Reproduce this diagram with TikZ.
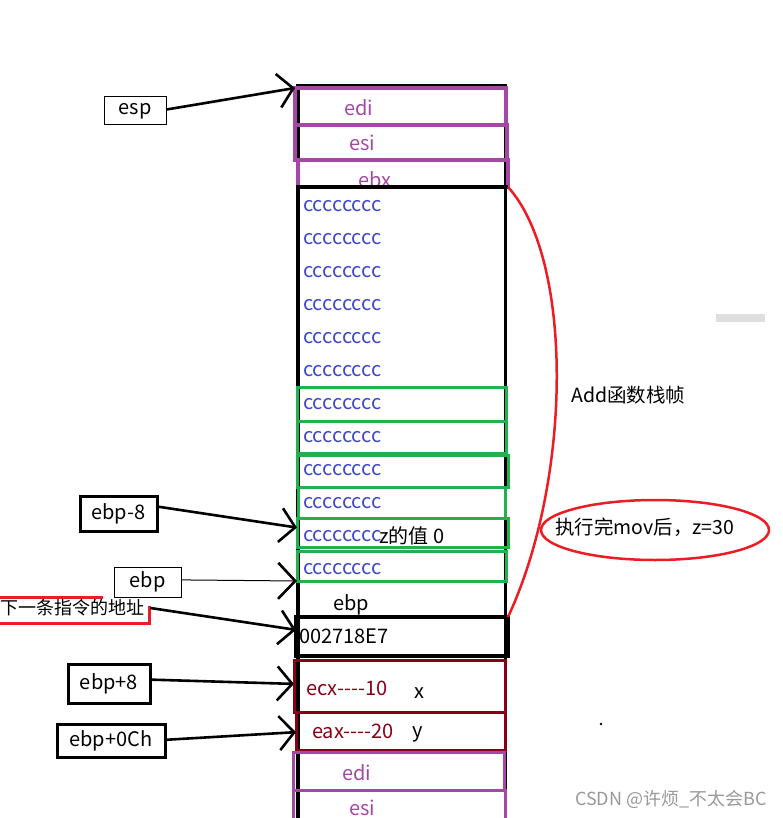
\documentclass[tikz,border=0pt]{standalone}
\usepackage{fontspec}
\setmainfont{Noto Sans CJK SC}
\usetikzlibrary{arrows.meta,shapes.geometric,calc}
\definecolor{ppl}{HTML}{A349A4}
\definecolor{cblu}{HTML}{3F48CC}
\definecolor{grn}{HTML}{22B14C}
\definecolor{dred}{HTML}{880015}
\definecolor{rd}{HTML}{ED1C24}
\begin{document}
\begin{tikzpicture}[x=1pt,y=-1pt,
  box/.style={rectangle,inner sep=0pt,outer sep=0pt,anchor=north west},
  txt/.style={inner sep=0pt,font=\fontsize{20}{22}\selectfont},
  cjk/.style={inner sep=0pt,font=\fontsize{19.5}{22}\selectfont},
  ctxt/.style={txt,text=cblu,anchor=west},
  arr/.style={line width=2.6pt,-{Straight Barb[length=15pt,width=34pt,line width=2.6pt]}},
  thinarr/.style={line width=1pt,-{Straight Barb[length=17pt,width=36pt,line width=2.6pt]}}]
\useasboundingbox (0,0) rectangle (782,818);
\fill[white] (0,0) rectangle (782,818);

% black column
\draw[line width=3.5pt] (296,86) -- (507,86);
\draw[line width=3.5pt] (298,86) -- (298,830);
\draw[line width=3.5pt] (505.5,86) -- (505.5,830);

% top register boxes
\node[box,draw=ppl,line width=3.5pt,minimum width=211,minimum height=37] (edi) at (295,88) {};
\node[box,draw=ppl,line width=3.5pt,minimum width=212,minimum height=35] (esi) at (295,125) {};
\node[box,draw=ppl,line width=3.5pt,minimum width=210,minimum height=27] (ebx) at (298,160) {};
\node[txt,text=ppl] (tedi) at (359,108) {edi};
\node[txt,text=ppl] (tesi) at (362,143) {esi};
\node[txt,text=ppl] (tebx) at (375,180) {ebx};
\draw[line width=3.5pt] (296,187) -- (508,187);

% cccc rows
\node[ctxt] (c1) at (303,206) {cccccccc};
\node[ctxt] (c2) at (303,239) {cccccccc};
\node[ctxt] (c3) at (303,272) {cccccccc};
\node[ctxt] (c4) at (303,305) {cccccccc};
\node[ctxt] (c5) at (303,338) {cccccccc};
\node[ctxt] (c6) at (303,371) {cccccccc};

% green boxes
\node[box,draw=grn,line width=3pt,minimum width=209,minimum height=34] (g1) at (297,387) {};
\node[box,draw=grn,line width=3pt,minimum width=209,minimum height=32] (g2) at (297,421) {};
\node[box,draw=grn,line width=3pt,minimum width=211,minimum height=32] (g3) at (297,455) {};
\node[box,draw=grn,line width=3pt,minimum width=207,minimum height=31] (g4) at (298,487) {};
\node[box,draw=grn,line width=3pt,minimum width=211,minimum height=29] (g5) at (297,518) {};
\node[box,draw=grn,line width=3pt,minimum width=209,minimum height=30] (g6) at (297,551) {};
\node[ctxt] (c7) at (303,404) {cccccccc};
\node[ctxt] (c8) at (303,437) {cccccccc};
\node[ctxt] (c9) at (303,470) {cccccccc};
\node[ctxt] (c10) at (303,503) {cccccccc};
\node[ctxt] (c11) at (303,536) {cccccccc};
\node[ctxt] (c12) at (303,569) {cccccccc};
\node[txt,anchor=west] (zval) at (379,536) {z的值 0};

% ebp / return address
\node[txt] (tebp) at (351,605) {ebp};
\node[box,draw=black,line width=4pt,minimum width=212,minimum height=39] (r0) at (296,617) {};
\node[txt,anchor=west] (tret) at (299,636) {002718E7};

% parameters
\node[box,draw=dred,line width=3pt,minimum width=211,minimum height=52] (pecx) at (294,660) {};
\node[box,draw=dred,line width=3pt,minimum width=209,minimum height=38] (peax) at (296,712) {};
\node[txt,anchor=west,text=dred] (tecx) at (306,688) {ecx-{}-{}-{}-10};
\node[txt] (tx) at (419,693) {x};
\node[txt,anchor=west,text=dred] (teax) at (312,731) {eax-{}-{}-{}-20};
\node[txt] (ty) at (418,734) {y};

% lower registers
\node[box,draw=ppl,line width=3pt,minimum width=211,minimum height=38] (edi2) at (293,752) {};
\node[box,draw=ppl,line width=3pt,minimum width=212,minimum height=40] (esi2) at (293,790) {};
\node[txt,text=ppl] (tedi2) at (357,773) {edi};
\node[txt,text=ppl] (tesi2) at (362,808) {esi};

% left labels
\node[box,draw=black,line width=1pt,minimum width=62,minimum height=28] (lesp) at (104,97) {};
\node[txt] at (lesp.center) {esp};
\node[box,draw=black,line width=3pt,minimum width=77,minimum height=35] (lebpm) at (80,496) {};
\node[txt] at (lebpm.center) {ebp-8};
\node[box,draw=black,line width=1pt,minimum width=67,minimum height=30] (lebp) at (114,567) {};
\node[txt] at (lebp.center) {ebp};
\draw[rd,line width=3pt] (-5,597) -- (103,597);
\draw[rd,line width=3pt] (149,606) -- (149,623) -- (-5,623);
\node[inner sep=0pt,font=\fontsize{18}{20}\selectfont,anchor=west] (lnext) at (0,608) {下一条指令的地址};
\node[inner sep=0pt,minimum width=150,minimum height=20,anchor=west] (lnextbox) at (0,608) {};
\node[box,draw=black,line width=3pt,minimum width=82,minimum height=39] (lebpp8) at (68,664) {};
\node[txt] at (lebpp8.center) {ebp+8};
\node[box,draw=black,line width=3pt,minimum width=108,minimum height=33] (lebpc) at (57,724) {};
\node[txt] at (lebpc.center) {ebp+0Ch};

% arrows
\draw[arr] ($(lesp.north east)!0.45!(lesp.south east)$) -- (edi.north west);
\draw[arr] ($(lebpm.north east)!0.3!(lebpm.south east)$) -- ($(g5.north west)!0.33!(g5.south west)$);
\draw[thinarr] ($(lebp.north east)!0.43!(lebp.south east)$) -- (g6.south west);
\draw[arr] (lnextbox.east) -- ($(r0.north west)!0.33!(r0.south west)$);
\draw[arr] ($(lebpp8.north east)!0.4!(lebpp8.south east)$) -- ($(pecx.north west)!0.46!(pecx.south west)$);
\draw[arr] ($(lebpc.north east)!0.48!(lebpc.south east)$) -- ($(peax.north west)!0.53!(peax.south west)$);

% frame brace
\draw[rd,line width=2.5pt] (ebx.south east) .. controls (574,260) and (572,480) .. (r0.north east);
\node[cjk,anchor=west] (tadd) at (571,395) {Add函数栈帧};
\node[ellipse,draw=rd,line width=2.5pt,minimum width=228,minimum height=60,inner sep=0pt] (note) at (655,530) {};
\node[cjk,anchor=west] (notetxt) at (555,527) {执行完mov后，z=30};

% misc marks
\fill[gray!25] (716,314) rectangle (765,322);
\fill[black] (601,724) circle (1.3);
\node[inner sep=0pt,anchor=east,text=gray!80,font=\fontsize{18}{20}\selectfont] (wm) at (767,799) {CSDN @许烦\_不太会BC};
\end{tikzpicture}
\end{document}
